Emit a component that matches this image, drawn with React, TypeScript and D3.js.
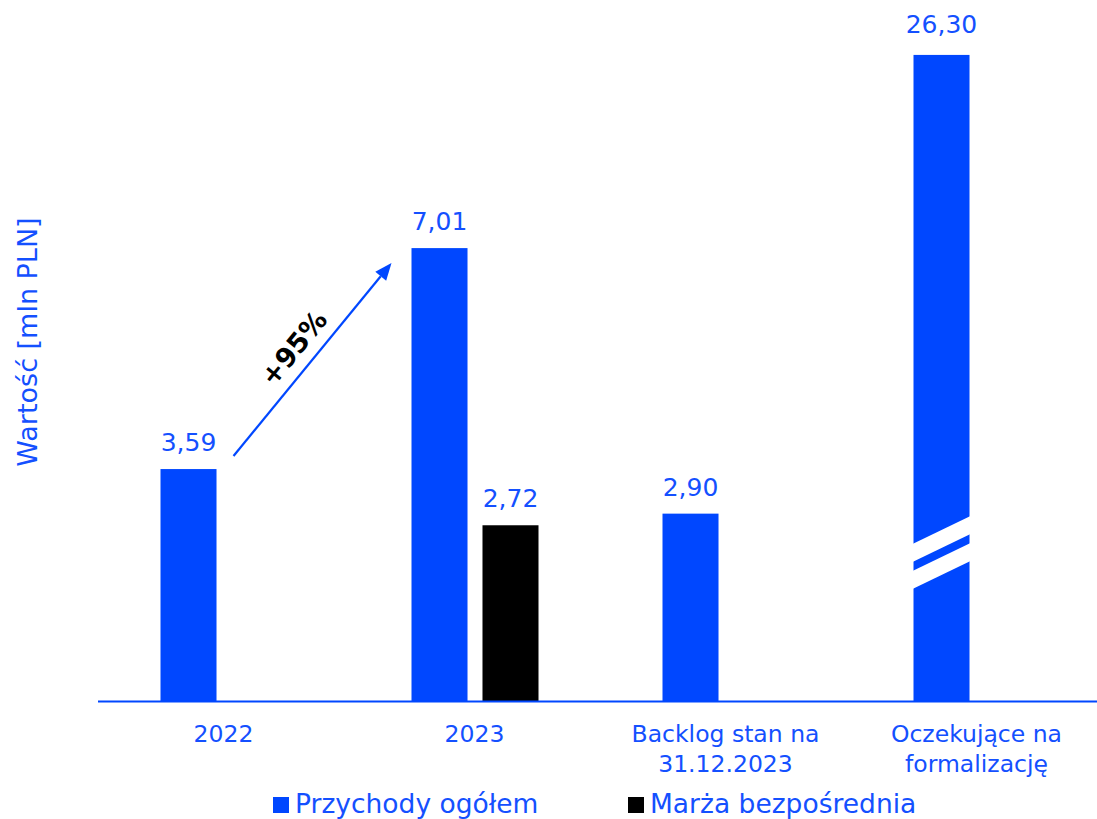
import React from "react";
import * as d3 from "d3";

const categories = [["2022"], ["2023"], ["Backlog stan na", "31.12.2023"], ["Oczekujące na", "formalizację"]];
const seriesNames = ["Przychody ogółem", "Marża bezpośrednia"];
const seriesColors = ["#0047FF", "#000000"];
const revenue: (number | null)[] = [3.59, 7.01, 2.9, 26.3];
const margin: (number | null)[] = [null, 2.72, null, null];
const brokenCap = 10.0; // display cap for broken bar
const breakValue = 2.3;
const growthLabel = "+95%";
const yTitle = "Wartość [mln PLN]";

const W = 1097;
const H = 819;
const FONT = "'DejaVu Sans', Verdana, sans-serif";
const BLUE = "#0047FF";
const TEXT_BLUE = "#1450FF";

export default function App() {
  const x0 = d3.scaleBand<number>().domain(d3.range(categories.length)).range([98, 1102]);
  const x1 = d3.scaleBand<number>().domain([0, 1]).range([62.5, 189.5]).paddingInner(0.211);
  const y = d3.scaleLinear().domain([0, 10.85]).range([701, 0]);

  const fmt = (v: number) => v.toFixed(2).replace(".", ",");

  const bars: JSX.Element[] = [];
  const labels: JSX.Element[] = [];
  const series = [revenue, margin];
  series.forEach((vals, si) => {
    vals.forEach((v, ci) => {
      if (v == null) return;
      const broken = v > brokenCap;
      const dv = broken ? brokenCap : v;
      const bx = (x0(ci) as number) + (x1(si) as number);
      const bw = x1.bandwidth();
      bars.push(
        <rect key={`b${si}-${ci}`} x={bx} y={y(dv)} width={bw} height={y(0) - y(dv)} fill={seriesColors[si]} />
      );
      if (broken) {
        const yc = y(breakValue);
        const slope = 28;
        const th = 18;
        const gap = 27;
        [-gap / 2, gap / 2].forEach((off, k) => {
          const yl = yc + off + slope / 2;
          const yr = yc + off - slope / 2;
          bars.push(
            <polygon
              key={`brk${k}`}
              points={`${bx - 1},${yl - th / 2} ${bx + bw + 1},${yr - th / 2} ${bx + bw + 1},${yr + th / 2} ${bx - 1},${yl + th / 2}`}
              fill="#ffffff"
            />
          );
        });
      }
      labels.push(
        <text
          key={`l${si}-${ci}`}
          x={bx + bw / 2}
          y={y(dv) - (broken ? 22 : 18)}
          textAnchor="middle"
          fontSize={25}
          fill={TEXT_BLUE}
          fontFamily={FONT}
        >
          {fmt(v)}
        </text>
      );
    });
  });

  // growth arrow
  const bx2022 = (x0(0) as number) + (x1(0) as number);
  const bx2023 = (x0(1) as number) + (x1(0) as number);
  const sx = bx2022 + x1.bandwidth() + 17;
  const sy = y(revenue[0] as number) - 13;
  const ex = bx2023 - 20;
  const ey = y(revenue[1] as number) + 15;
  const ang = Math.atan2(ey - sy, ex - sx);
  const headLen = 17;
  const headW = 7;
  const ux = Math.cos(ang);
  const uy = Math.sin(ang);
  const bxh = ex - ux * headLen;
  const byh = ey - uy * headLen;
  const mx = (sx + ex) / 2;
  const my = (sy + ey) / 2;
  const px = uy;
  const py = -ux;
  const tx = mx + px * 22 - ux * 3;
  const ty = my + py * 22 - uy * 3;

  return (
    <svg
      width={W}
      height={H}
      style={{ position: "absolute", left: 0, top: 0, display: "block", background: "#fff" }}
    >
      {bars}
      {labels}
      <line x1={98} x2={W} y1={701.5} y2={701.5} stroke={BLUE} strokeWidth={2} />
      {categories.map((lines, ci) => (
        <text
          key={`c${ci}`}
          x={(x0(ci) as number) + x0.bandwidth() / 2}
          y={742}
          textAnchor="middle"
          fontSize={23.5}
          fill={TEXT_BLUE}
          fontFamily={FONT}
        >
          {lines.map((ln, i) => (
            <tspan key={i} x={(x0(ci) as number) + x0.bandwidth() / 2} dy={i === 0 ? 0 : 30}>
              {ln}
            </tspan>
          ))}
        </text>
      ))}
      <text
        transform={`translate(37,342) rotate(-90)`}
        textAnchor="middle"
        fontSize={27}
        fill={TEXT_BLUE}
        fontFamily={FONT}
      >
        {yTitle}
      </text>
      <line x1={sx} y1={sy} x2={bxh} y2={byh} stroke={BLUE} strokeWidth={2.2} />
      <polygon
        points={`${ex},${ey} ${bxh + px * headW},${byh + py * headW} ${bxh - px * headW},${byh - py * headW}`}
        fill={BLUE}
      />
      <text
        transform={`translate(${tx},${ty}) rotate(${(ang * 180) / Math.PI})`}
        textAnchor="middle"
        dominantBaseline="central"
        fontSize={27}
        fontWeight="bold"
        fill="#000"
        fontFamily={FONT}
      >
        {growthLabel}
      </text>
      {seriesNames.map((s, i) => {
        const lx = [273, 628][i];
        return (
          <g key={`lg${i}`}>
            <rect x={lx} y={797} width={16} height={16} fill={seriesColors[i]} />
            <text x={lx + 22} y={813} fontSize={26.5} fill={TEXT_BLUE} fontFamily={FONT}>
              {s}
            </text>
          </g>
        );
      })}
    </svg>
  );
}
